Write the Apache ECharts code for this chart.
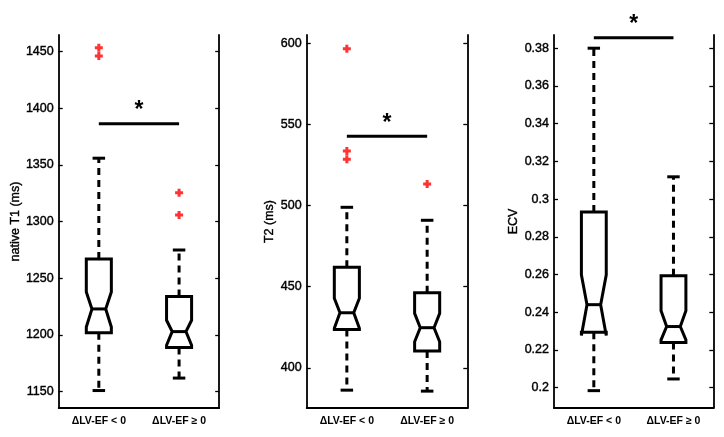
<!DOCTYPE html>
<html>
<head>
<meta charset="utf-8">
<script src="https://cdn.jsdelivr.net/npm/echarts@6/dist/echarts.min.js"></script>
<style>
html,body{margin:0;padding:0;background:#fff;}
#c{width:724px;height:437px;}
</style>
</head>
<body>
<div id="c"></div>
<script>
// ---- data ----
const categories = ['ΔLV-EF < 0', 'ΔLV-EF ≥ 0'];

// [lower whisker, Q1, median, Q3, upper whisker]
const t1Stats = [[1151, 1202, 1223, 1267, 1356], [1162, 1189, 1203, 1234, 1275]];
const t1Notch = [[1207, 1238], [1191, 1213]];
const t1Outliers = [[1453.5, 1446.2], [1325.6, 1305.9]];
const t1Sig = 1386.5;
const t1Ticks = [1150, 1200, 1250, 1300, 1350, 1400, 1450];
const t1Range = [1135.6, 1464.7];

const t2Stats = [[386.2, 423.6, 433.9, 461.9, 498.9], [385.6, 410.3, 424.7, 446.2, 490.9]];
const t2Notch = [[424.4, 442.8], [416.0, 433.5]];
const t2Outliers = [[596.7, 533.6, 528.5], [513.3]];
const t2Sig = 542.7;
const t2Ticks = [400, 450, 500, 550, 600];
const t2Range = [375.2, 605.1];

const ecvStats = [[0.1984, 0.2294, 0.2440, 0.2932, 0.3800], [0.2046, 0.2239, 0.2324, 0.2593, 0.3118]];
const ecvNotch = [[0.2276, 0.2598], [0.2253, 0.2408]];
const ecvOutliers = [[], []];
const ecvSig = 0.3856;
const ecvTicks = [0.2, 0.22, 0.24, 0.26, 0.28, 0.3, 0.32, 0.34, 0.36, 0.38];
const ecvRange = [0.1892, 0.3870];

const yNames = ['native T1 (ms)', 'T2 (ms)', 'ECV'];

// ---- layout / style ----
const panels = [
  {stats: t1Stats, notch: t1Notch, out: t1Outliers, sig: t1Sig, ticks: t1Ticks, range: t1Range,
   grid: {left: 58.7, top: 35, width: 160.5, height: 373}, nameGap: 37},
  {stats: t2Stats, notch: t2Notch, out: t2Outliers, sig: t2Sig, ticks: t2Ticks, range: t2Range,
   grid: {left: 306.7, top: 35, width: 160.6, height: 373}, nameGap: 29},
  {stats: ecvStats, notch: ecvNotch, out: ecvOutliers, sig: ecvSig, ticks: ecvTicks, range: ecvRange,
   grid: {left: 554, top: 35, width: 159.3, height: 373}, nameGap: 32}
];

const FONT = 'Liberation Sans';
const LW = 3;

function boxRender(params, api) {
  const i = api.value(0);
  const mn = api.value(1), q1 = api.value(2), nlo = api.value(3), med = api.value(4),
        nhi = api.value(5), q3 = api.value(6), mx = api.value(7);
  const cx = api.coord([i, med])[0];
  const y = v => api.coord([i, v])[1];
  const band = api.size([1, 0])[0];
  const hw = band * 0.156, ww = hw * 0.55, cw = hw * 0.5;
  const st = {stroke: '#000', fill: 'none', lineWidth: LW, lineJoin: 'miter'};
  const dash = {stroke: '#000', lineWidth: LW, lineDash: [7, 5]};
  const pts = [
    [cx - hw, y(q1)], [cx - hw, y(nlo)], [cx - ww, y(med)], [cx - hw, y(nhi)], [cx - hw, y(q3)],
    [cx + hw, y(q3)], [cx + hw, y(nhi)], [cx + ww, y(med)], [cx + hw, y(nlo)], [cx + hw, y(q1)]
  ];
  return {
    type: 'group',
    children: [
      {type: 'line', shape: {x1: cx, y1: y(q3), x2: cx, y2: y(mx)}, style: dash},
      {type: 'line', shape: {x1: cx, y1: y(q1), x2: cx, y2: y(mn)}, style: dash},
      {type: 'line', shape: {x1: cx - cw, y1: y(mx), x2: cx + cw, y2: y(mx)}, style: {stroke: '#000', lineWidth: LW}},
      {type: 'line', shape: {x1: cx - cw, y1: y(mn), x2: cx + cw, y2: y(mn)}, style: {stroke: '#000', lineWidth: LW}},
      {type: 'polygon', shape: {points: pts}, style: st},
      {type: 'line', shape: {x1: cx - ww, y1: y(med), x2: cx + ww, y2: y(med)}, style: {stroke: '#000', lineWidth: LW}}
    ]
  };
}

function sigRender(params, api) {
  const v = api.value(2);
  const p0 = api.coord([api.value(0), v]);
  const p1 = api.coord([api.value(1), v]);
  return {
    type: 'group',
    children: [
      {type: 'line', shape: {x1: p0[0], y1: p0[1], x2: p1[0], y2: p1[1]}, style: {stroke: '#000', lineWidth: LW}},
      {type: 'text', style: {text: '*', x: (p0[0] + p1[0]) / 2, y: p0[1] - 13, align: 'center', verticalAlign: 'middle',
        fontSize: 23, fontWeight: 'bold', fontFamily: FONT, fill: '#000'}}
    ]
  };
}

const grids = [], xAxes = [], yAxes = [], series = [];
panels.forEach((p, k) => {
  grids.push(p.grid);
  xAxes.push({
    type: 'category', gridIndex: k, data: categories, boundaryGap: true,
    axisLine: {lineStyle: {color: '#000', width: 1.8}},
    axisTick: {show: false},
    axisLabel: {color: '#000', fontSize: 10.5, fontFamily: FONT, margin: 8, fontWeight: 'bold'}
  });
  const yBase = {
    type: 'value', gridIndex: k, min: p.range[0], max: p.range[1],
    splitLine: {show: false},
    axisLine: {show: true, lineStyle: {color: '#000', width: 1.8}},
    axisTick: {show: true, inside: true, length: 4, customValues: p.ticks, lineStyle: {color: '#000', width: 1.3}}
  };
  yAxes.push(Object.assign({}, yBase, {
    position: 'left', name: yNames[k], nameLocation: 'middle', nameGap: p.nameGap, nameRotate: 90,
    nameTextStyle: {color: '#000', fontSize: 12.5, fontFamily: FONT, textBorderColor: '#000', textBorderWidth: 0.4},
    axisLabel: {show: true, customValues: p.ticks, color: '#000', fontSize: 12.5, fontFamily: FONT, margin: 5,
      textBorderColor: '#000', textBorderWidth: 0.4, formatter: v => String(v)}
  }));
  yAxes.push(Object.assign({}, yBase, {position: 'right', axisLabel: {show: false}}));
  const yi = k * 2;
  series.push({
    type: 'custom', xAxisIndex: k, yAxisIndex: yi, renderItem: boxRender,
    encode: {x: 0, y: [1, 2, 3, 4, 5, 6, 7]},
    data: p.stats.map((s, i) => [i, s[0], s[1], p.notch[i][0], s[2], p.notch[i][1], s[3], s[4]]),
    silent: true
  });
  const outData = [];
  p.out.forEach((arr, i) => arr.forEach(v => outData.push([i, v])));
  series.push({
    type: 'scatter', xAxisIndex: k, yAxisIndex: yi, data: outData,
    symbol: 'path://M2.5,0H5.5V2.5H8V5.5H5.5V8H2.5V5.5H0V2.5H2.5Z', symbolSize: 8,
    itemStyle: {color: '#ff0000'}, silent: true
  });
  series.push({
    type: 'custom', xAxisIndex: k, yAxisIndex: yi, renderItem: sigRender, clip: false,
    encode: {x: [0, 1], y: 2},
    data: [[0, 1, p.sig]], silent: true
  });
});

const chart = echarts.init(document.getElementById('c'), null, {renderer: 'canvas'});
chart.setOption({
  backgroundColor: '#fff',
  animation: false,
  textStyle: {fontFamily: FONT},
  grid: grids, xAxis: xAxes, yAxis: yAxes, series: series
});
</script>
</body>
</html>
